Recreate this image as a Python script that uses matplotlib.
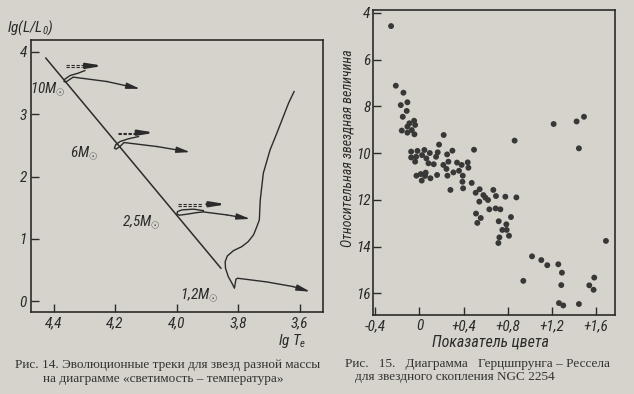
import matplotlib
matplotlib.use("Agg")
import matplotlib.pyplot as plt
from matplotlib import font_manager

# --- left chart: evolutionary tracks (lg Te, lg L/Lsun) ---
ms_lgT = [4.425, 3.856]
ms_lgL = [3.90, 0.53]

t10_lgT = [4.298, 4.319, 4.346, 4.363, 4.366, 4.360, 4.346, 4.336, 4.227, 4.119]
t10_lgL = [3.701, 3.660, 3.621, 3.563, 3.525, 3.515, 3.563, 3.595, 3.525, 3.408]
t6_lgT = [4.124, 4.157, 4.184, 4.198, 4.202, 4.197, 4.184, 4.171, 4.064, 3.956]
t6_lgL = [2.642, 2.605, 2.562, 2.509, 2.456, 2.440, 2.482, 2.546, 2.482, 2.392]
t25_lgT = [3.913, 3.945, 3.983, 3.997, 3.999, 3.991, 3.967, 3.934, 3.913, 3.837, 3.761]
t25_lgL = [1.454, 1.477, 1.465, 1.438, 1.401, 1.380, 1.396, 1.422, 1.433, 1.385, 1.321]
t12_lgT = [3.618, 3.636, 3.653, 3.674, 3.696, 3.718, 3.728, 3.731, 3.739, 3.750, 3.767, 3.788,
           3.815, 3.835, 3.842, 3.841, 3.832, 3.820, 3.812, 3.807, 3.802, 3.707, 3.620, 3.566]
t12_lgL = [3.364, 3.178, 2.963, 2.697, 2.429, 2.055, 1.626, 1.305, 1.197, 1.064, 0.957, 0.876,
           0.812, 0.727, 0.636, 0.530, 0.395, 0.289, 0.209, 0.353, 0.369, 0.310, 0.234, 0.154]

# dashed (fast) segments above each hook: lgT start/end, two lgL levels, arrow end
dash_lgT0 = [4.359, 4.189, 3.994]
dash_lgT1 = [4.303, 4.129, 3.913]
dash_lgL_a = [3.782, 2.706, 1.562]
dash_lgL_b = [3.750, 2.681, 1.530]
dash_arrow_lgT = [4.238, 4.070, 3.837]

mass_labels = ["10$M_{\\odot}$", "6$M_{\\odot}$", "2,5$M_{\\odot}$", "1,2$M_{\\odot}$"]
mass_lgT = [4.420, 4.301, 4.115, 3.927]
mass_lgL = [3.392, 2.379, 1.273, 0.10]

lgT_ticks = [4.4, 4.2, 4.0, 3.8, 3.6]
lgT_labels = ["4,4", "4,2", "4,0", "3,8", "3,6"]
lgL_ticks = [0, 1, 2, 3, 4]

# --- right chart: HR diagram of NGC 2254 (colour index, magnitude) ---
color_idx = [-0.257, -0.214, -0.145, -0.169, -0.109, -0.115, -0.151, -0.048, -0.091, -0.160,
             -0.109, -0.069, -0.109, -0.039, -0.045,
             0.220, 0.178, 0.495, 0.863, 0.299, 0.251, 0.166, 0.094, 0.045, -0.018,
             -0.075, -0.075, -0.030, 0.024, 0.063, 0.151, -0.039, 0.082, 0.130, 0.217,
             0.263, 0.341, 0.383, 0.438, 0.444, 0.359, 0.308, 0.245, 0.254, 0.160,
             0.100, 0.057, 0.051, 0.012, 0.021, -0.027, 0.393, 0.390, 0.396, 0.281,
             0.474, 0.510, 0.546, 0.543, 0.580, 0.598, 0.622, 0.670, 0.694, 0.779,
             0.879, 0.634, 0.691, 0.734, 0.513, 0.556, 0.525, 0.830, 0.719, 0.788,
             0.752, 0.791, 0.812, 0.725, 0.716, 0.942, 1.021, 1.105, 1.159, 1.259,
             1.292, 1.286, 1.265, 1.304, 1.446, 1.217, 1.425, 1.492, 1.446, 1.691,
             1.585, 1.540, 1.579]
magnitude = [4.57, 7.12, 7.42, 7.95, 7.83, 8.20, 8.45, 8.62, 8.73, 9.04,
             8.87, 9.02, 9.13, 8.80, 9.20,
             9.23, 9.64, 9.86, 9.47, 9.90, 10.06, 9.97, 10.00, 9.87, 9.91,
             9.94, 10.19, 10.16, 10.09, 10.23, 10.16, 10.37, 10.44, 10.48, 10.51,
             10.37, 10.41, 10.51, 10.40, 10.63, 10.76, 10.83, 10.68, 10.97, 10.94,
             11.08, 10.84, 10.98, 10.90, 11.18, 10.97, 10.97, 11.23, 11.51, 11.58,
             11.28, 11.70, 11.55, 12.08, 11.80, 11.91, 12.01, 11.58, 11.84, 11.87,
             11.90, 12.41, 12.37, 12.41, 12.59, 12.78, 12.99, 12.74, 12.92, 13.05,
             13.29, 13.29, 13.54, 13.61, 13.85, 15.47, 14.42, 14.58, 14.80, 14.76,
             15.12, 15.65, 16.42, 16.52, 16.46, 8.76, 8.65, 8.45, 9.80, 13.76,
             15.33, 15.66, 15.85]

ci_ticks = [-0.4, 0, 0.4, 0.8, 1.2, 1.6]
ci_labels = ["-0,4", "0", "+0,4", "+0,8", "+1,2", "+1,6"]
mag_ticks = [4, 6, 8, 10, 12, 14, 16]

paper = "#d5d3cb"
ink = "#2b2b2b"

# pick a narrow sans if one is installed
installed = {f.name for f in font_manager.fontManager.ttflist}
narrow = "Liberation Sans"
for name in ["Roboto Condensed", "Liberation Sans Narrow", "Open Sans Condensed", "Liberation Sans"]:
    if name in installed:
        narrow = name
        break

plt.rcParams["font.family"] = [narrow, "DejaVu Sans"]
plt.rcParams["font.style"] = "italic"
plt.rcParams["font.stretch"] = "condensed"
plt.rcParams["mathtext.fontset"] = "custom"
plt.rcParams["mathtext.it"] = narrow + ":italic"
plt.rcParams["mathtext.rm"] = narrow + ":italic"

fig = plt.figure(figsize=(6.34, 3.94), dpi=100, facecolor=paper)
ax1 = fig.add_axes([0.049, 0.209, 0.460, 0.690])
ax2 = fig.add_axes([0.589, 0.2005, 0.381, 0.774])

for ax in (ax1, ax2):
    ax.set_facecolor(paper)
    for s in ax.spines.values():
        s.set_color(ink)
        s.set_linewidth(1.2)
    ax.tick_params(direction="in", length=6, width=1, color=ink, labelcolor=ink,
                   labelsize=11, pad=3)

# left chart
ax1.plot(ms_lgT, ms_lgL, color=ink, lw=1.1)
arrow = dict(arrowstyle="-|>,head_length=0.8,head_width=0.18", color=ink, lw=1.0,
             shrinkA=0, shrinkB=0)
for tx, ty in [(t10_lgT, t10_lgL), (t6_lgT, t6_lgL), (t25_lgT, t25_lgL), (t12_lgT, t12_lgL)]:
    ax1.plot(tx[:-1], ty[:-1], color=ink, lw=1.0, solid_joinstyle="round")
    ax1.annotate("", xy=(tx[-1], ty[-1]), xytext=(tx[-2], ty[-2]), arrowprops=arrow)

for i in range(3):
    ax1.plot([dash_lgT0[i], dash_lgT1[i]], [dash_lgL_a[i]] * 2, color=ink, lw=0.8, ls=(0, (3, 1.5)))
    ax1.plot([dash_lgT0[i], dash_lgT1[i] + 0.005], [dash_lgL_b[i]] * 2, color=ink, lw=0.8, ls=(0, (3, 1.5)))
    ya = (dash_lgL_a[i] + dash_lgL_b[i]) / 2 + 0.01
    ax1.annotate("", xy=(dash_arrow_lgT[i], ya), xytext=(dash_lgT1[i] - 0.01, ya),
                 arrowprops=dict(arrowstyle="-|>,head_length=0.9,head_width=0.15",
                                 color=ink, lw=1.6, shrinkA=0, shrinkB=0))

for lab, x, y in zip(mass_labels, mass_lgT, mass_lgL):
    ax1.text(x, y, lab, ha="center", va="center", fontsize=11, color=ink)

ax1.set_xlim(4.473, 3.525)
ax1.set_ylim(-0.167, 4.194)
ax1.set_xticks(lgT_ticks, lgT_labels)
ax1.set_yticks(lgL_ticks)

# right chart
ax2.scatter(color_idx, magnitude, s=18, color="#383838", edgecolors="none", zorder=3)
ax2.set_xlim(-0.417, 1.773)
ax2.set_ylim(16.93, 3.884)
ax2.set_xticks(ci_ticks, ci_labels)
ax2.set_yticks(mag_ticks)
ax2.tick_params(axis="y", pad=2)

# axis titles
fig.text(0.011, 0.929, "lg(L/L$_{0}$)", ha="left", va="center", fontsize=11, color=ink)
fig.text(0.461, 0.134, "lg $T_e$", ha="center", va="center", fontsize=11, color=ink)
fig.text(0.548, 0.6244, "Относительная звездная величина", rotation=90,
         ha="center", va="center", fontsize=10, color=ink)
fig.text(0.773, 0.132, "Показатель цвета", ha="center", va="center", fontsize=11.5, color=ink)

# captions
cap = dict(family="Liberation Serif", style="normal", stretch="normal", fontsize=9.5,
           color="#333333", va="center")
fig.text(0.0237, 0.0735, "Рис. 14. Эволюционные треки для звезд разной массы", ha="left", **cap)
fig.text(0.0678, 0.0380, "на диаграмме «светимость – температура»", ha="left", **cap)
fig.text(0.544, 0.0761, "Рис.   15.   Диаграмма   Герцшпрунга – Рессела", ha="left", **cap)
fig.text(0.560, 0.0430, "для звездного скопления NGC 2254", ha="left", **cap)

fig.savefig("out.png", dpi=100, facecolor=paper)
